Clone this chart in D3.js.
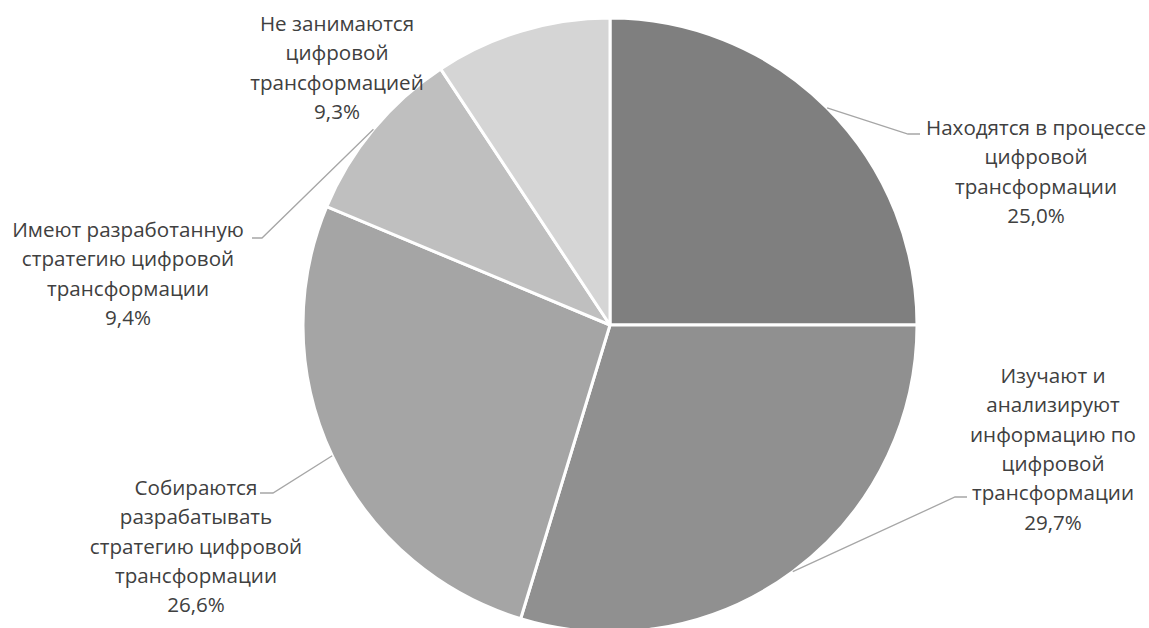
<!DOCTYPE html>
<html><head><meta charset="utf-8">
<script src="https://cdn.jsdelivr.net/npm/d3@7"></script>
<style>body{margin:0;background:#fff}</style>
</head><body>
<svg id="c" width="1149" height="628"></svg>
<script>
// ---- data ----
const categories = [
  ["Находятся в процессе", "цифровой", "трансформации"],
  ["Изучают и", "анализируют", "информацию по", "цифровой", "трансформации"],
  ["Собираются", "разрабатывать", "стратегию цифровой", "трансформации"],
  ["Имеют разработанную", "стратегию цифровой", "трансформации"],
  ["Не занимаются", "цифровой", "трансформацией"]
];
const values = [25.0, 29.7, 26.6, 9.4, 9.3];
const valueLabels = ["25,0%", "29,7%", "26,6%", "9,4%", "9,3%"];
const colors = ["#7f7f7f", "#909090", "#a5a5a5", "#bfbfbf", "#d5d5d5"];

// ---- layout (label anchor: centre x, first baseline y, leader elbow x/y, leader end x) ----
const labelLayout = [
  {cx: 1036, y0: 135, elbow: [908, 134], end: 920},
  {cx: 1053, y0: 383, elbow: [955, 497], end: 967},
  {cx: 196,  y0: 495, elbow: [273, 493], end: 260},
  {cx: 128,  y0: 237, elbow: [262, 238], end: 252},
  {cx: 337,  y0: 31,  elbow: null, end: null}
];
const lineH = 29.3;
const cx = 610, cy = 325, R = 307;

const svg = d3.select("#c");
const g = svg.append("g").attr("transform", `translate(${cx},${cy})`);

const pie = d3.pie().sort(null).value(d => d);
const arcs = pie(values);
const arc = d3.arc().innerRadius(0).outerRadius(R);
const edgeArc = d3.arc().innerRadius(R).outerRadius(R);

g.selectAll("path.slice").data(arcs).join("path")
  .attr("class", "slice")
  .attr("d", arc)
  .attr("fill", (d, i) => colors[i])
  .attr("stroke", "#fff")
  .attr("stroke-width", 3)
  .attr("stroke-linejoin", "round");

// leader lines
arcs.forEach((a, i) => {
  const L = labelLayout[i];
  if (!L.elbow) return;
  const p0 = edgeArc.centroid(a);
  const pts = [[p0[0] + cx, p0[1] + cy], L.elbow, [L.end, L.elbow[1]]];
  svg.append("polyline")
    .attr("points", pts.map(p => p.join(",")).join(" "))
    .attr("fill", "none")
    .attr("stroke", "#a6a6a6")
    .attr("stroke-width", 1.3);
});

// labels
categories.forEach((lines, i) => {
  const L = labelLayout[i];
  const t = svg.append("text")
    .attr("text-anchor", "middle")
    .style("font-family", "'Open Sans', sans-serif")
    .style("font-size", "20.6px")
    .attr("fill", "#404040");
  lines.concat([valueLabels[i]]).forEach((s, j) => {
    t.append("tspan").attr("x", L.cx).attr("y", L.y0 + j * lineH).text(s);
  });
});
</script>
</body></html>
